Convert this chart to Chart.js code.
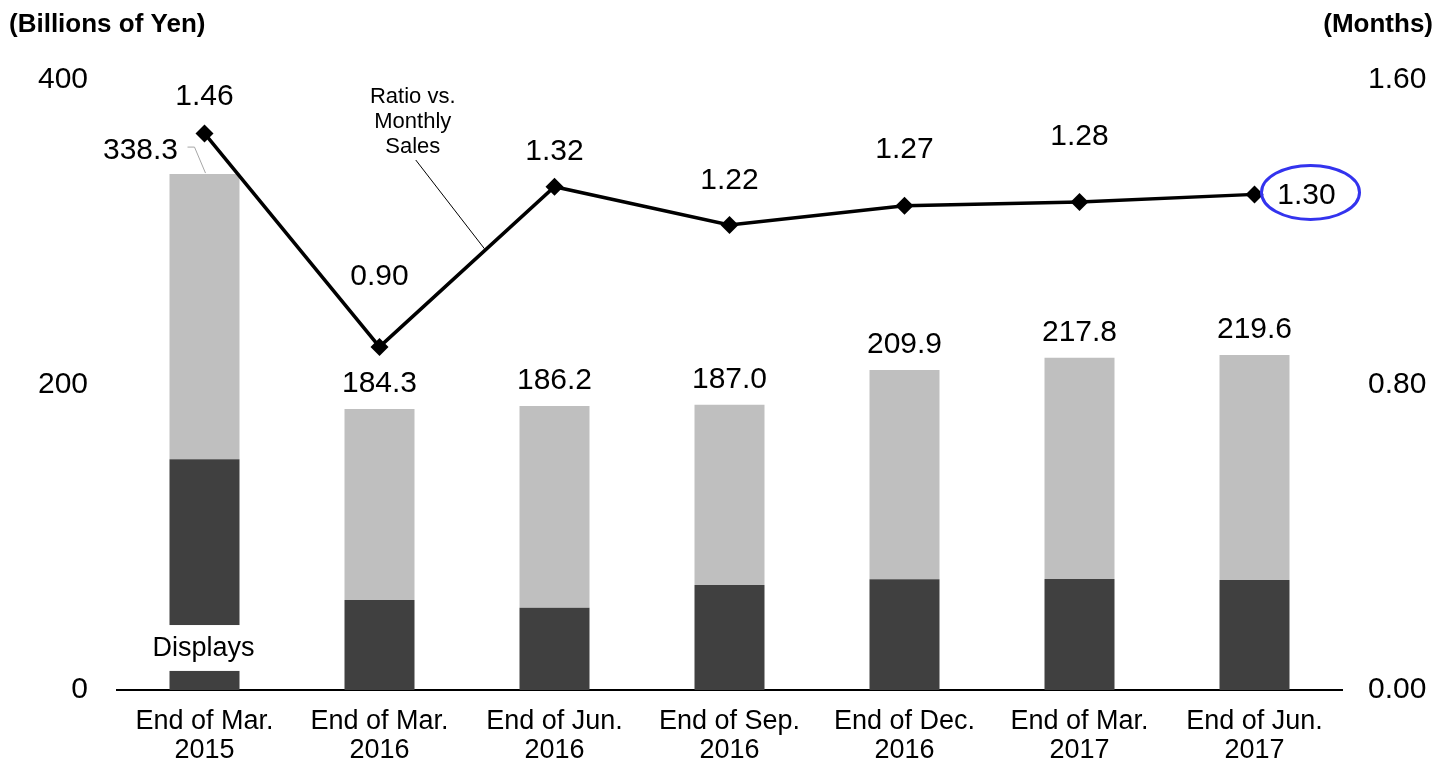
<!DOCTYPE html>
<html>
<head>
<meta charset="utf-8">
<script src="https://cdn.jsdelivr.net/npm/chart.js@4"></script>
<style>
  html, body { margin: 0; padding: 0; background: #fff; }
  #wrap { width: 1450px; height: 765px; position: relative; }
</style>
</head>
<body>
<div id="wrap"><canvas id="chart" width="1450" height="765"></canvas></div>
<script>
const categories = [
  ["End of Mar.", "2015"],
  ["End of Mar.", "2016"],
  ["End of Jun.", "2016"],
  ["End of Sep.", "2016"],
  ["End of Dec.", "2016"],
  ["End of Mar.", "2017"],
  ["End of Jun.", "2017"],
];
// inventory totals (billions of yen)
const totals = [338.3, 184.3, 186.2, 187.0, 209.9, 217.8, 219.6];
// displays portion
const displays = [151.3, 59.0, 53.9, 68.9, 72.6, 72.8, 72.1];
// ratio vs. monthly sales (months)
const ratio = [1.46, 0.9, 1.32, 1.22, 1.27, 1.28, 1.3];
const leftTicks = [0, 200, 400];
const rightTicks = [0, 0.8, 1.6];

const others = totals.map((t, i) => +(t - displays[i]).toFixed(1));

// how far above each diamond its value sits (px)
const ratioLabelLift = [37, 70, 35, 44, 56, 65, 0];

const FONT = "'Liberation Sans', Arial, sans-serif";

// draws all the value labels and callouts on top of the datasets
const annotations = {
  id: "annotations",
  afterDatasetsDraw(chart) {
    const ctx = chart.ctx;
    const x = chart.scales.x;
    const y = chart.scales.y;
    const y1 = chart.scales.y1;
    const barMeta = chart.getDatasetMeta(0);

    ctx.save();
    ctx.fillStyle = "#000";
    ctx.textAlign = "center";
    ctx.textBaseline = "middle";

    // "Displays" label sits in a white gap cut through the first bar
    const b0 = barMeta.data[0];
    const gapTop = y.getPixelForValue(42.6);
    const gapBot = y.getPixelForValue(12.5);
    ctx.fillStyle = "#fff";
    ctx.fillRect(b0.x - b0.width / 2 - 1, gapTop, b0.width + 2, gapBot - gapTop);
    ctx.fillStyle = "#000";
    ctx.font = "27px " + FONT;
    ctx.fillText("Displays", b0.x - 1, (gapTop + gapBot) / 2 + 1);

    // bar totals
    ctx.font = "30px " + FONT;
    totals.forEach((t, i) => {
      const top = y.getPixelForValue(t);
      const cx = x.getPixelForValue(i);
      if (i === 0) {
        // first total sits off to the left with a leader line
        ctx.fillText(t.toFixed(1), cx - 64, top - 23);
        ctx.strokeStyle = "#a6a6a6";
        ctx.lineWidth = 1;
        ctx.beginPath();
        ctx.moveTo(cx - 17, top - 27);
        ctx.lineTo(cx - 10, top - 27);
        ctx.lineTo(cx + 1, top - 1);
        ctx.stroke();
      } else {
        ctx.fillText(t.toFixed(1), cx, top - 25);
      }
    });

    // ratio labels
    ratio.forEach((r, i) => {
      const px = x.getPixelForValue(i);
      const py = y1.getPixelForValue(r);
      if (i === ratio.length - 1) {
        const ex = px + 56, ey = py - 2;
        ctx.fillText(r.toFixed(2), px + 52, py + 1);
        ctx.strokeStyle = "#3333ee";
        ctx.lineWidth = 3;
        ctx.beginPath();
        ctx.ellipse(ex, ey, 49, 27, 0, 0, Math.PI * 2);
        ctx.stroke();
      } else {
        ctx.fillText(r.toFixed(2), px, py - ratioLabelLift[i]);
      }
    });

    // series callout for the line
    const ax = x.getPixelForValue(1.6);
    const ay = y1.getPixelForValue(ratio[1] + (ratio[2] - ratio[1]) * 0.6);
    const lx = x.getPixelForValue(1.19);
    ctx.font = "22px " + FONT;
    ctx.fillText("Ratio vs.", lx, 97);
    ctx.fillText("Monthly", lx, 122);
    ctx.fillText("Sales", lx, 147);
    ctx.strokeStyle = "#000";
    ctx.lineWidth = 1;
    ctx.beginPath();
    ctx.moveTo(lx + 3, 160);
    ctx.lineTo(ax, ay - 2);
    ctx.stroke();

    // axis unit titles
    ctx.font = "bold 26px " + FONT;
    ctx.textAlign = "left";
    ctx.fillText("(Billions of Yen)", 9, 25);
    ctx.textAlign = "right";
    ctx.fillText("(Months)", 1433, 25);
    ctx.restore();
  },
};

new Chart(document.getElementById("chart"), {
  data: {
    labels: categories,
    datasets: [
      {
        type: "bar",
        label: "Displays",
        data: displays,
        backgroundColor: "#404040",
        yAxisID: "y",
        order: 1,
      },
      {
        type: "bar",
        label: "Others",
        data: others,
        backgroundColor: "#bfbfbf",
        yAxisID: "y",
        order: 1,
      },
      {
        type: "line",
        label: "Ratio vs. Monthly Sales",
        data: ratio,
        borderColor: "#000",
        borderWidth: 3.5,
        backgroundColor: "#000",
        pointStyle: "rectRot",
        pointRadius: 9,
        pointBorderWidth: 0,
        tension: 0,
        yAxisID: "y1",
        order: 0,
      },
    ],
  },
  plugins: [annotations],
  options: {
    responsive: false,
    animation: false,
    devicePixelRatio: 1,
    layout: { padding: { top: 80, left: 0, right: 0, bottom: 0 } },
    datasets: {
      bar: { categoryPercentage: 1, barPercentage: 0.4 },
    },
    plugins: {
      legend: { display: false },
      tooltip: { enabled: false },
    },
    scales: {
      x: {
        stacked: true,
        grid: { display: false, drawTicks: false },
        border: { display: true, color: "#000", width: 2 },
        ticks: {
          color: "#000",
          font: { family: FONT, size: 27, lineHeight: 1.04 },
          padding: 18,
          maxRotation: 0,
        },
        afterFit(scale) {
          scale.height = 75;
        },
      },
      y: {
        stacked: true,
        position: "left",
        min: 0,
        max: 400,
        grid: { display: false, drawTicks: false },
        border: { display: false },
        afterBuildTicks(scale) {
          scale.ticks = leftTicks.map((v) => ({ value: v }));
        },
        ticks: {
          color: "#000",
          font: { family: FONT, size: 30 },
          padding: 29,
        },
        afterFit(scale) {
          scale.width = 117;
        },
      },
      y1: {
        position: "right",
        min: 0,
        max: 1.6,
        grid: { display: false, drawTicks: false },
        border: { display: false },
        afterBuildTicks(scale) {
          scale.ticks = rightTicks.map((v) => ({ value: v }));
        },
        ticks: {
          color: "#000",
          font: { family: FONT, size: 30 },
          padding: 26,
          callback: (v) => Number(v).toFixed(2),
        },
        afterFit(scale) {
          scale.width = 108;
        },
      },
    },
  },
});
</script>
</body>
</html>
